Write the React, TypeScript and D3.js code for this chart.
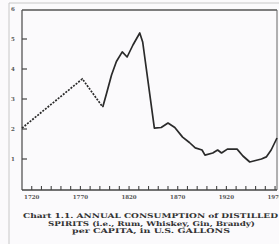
import React from "react";
import * as d3 from "d3";

const W = 279;
const H = 244;

// estimated (dashed) early segment
const estYears = [1710, 1772, 1793];
const estValues = [2.03, 3.67, 2.73];

// recorded series
const years = [1793, 1797, 1802, 1807, 1813, 1818, 1824, 1831, 1834, 1846, 1853, 1860, 1867, 1875, 1882, 1888, 1895, 1898, 1906, 1911, 1915, 1921, 1931, 1937, 1944, 1956, 1961, 1966, 1972];
const values = [2.73, 3.2, 3.8, 4.25, 4.57, 4.4, 4.8, 5.2, 4.9, 2.03, 2.05, 2.2, 2.05, 1.73, 1.55, 1.37, 1.3, 1.13, 1.2, 1.3, 1.2, 1.33, 1.33, 1.1, 0.9, 1.0, 1.07, 1.3, 1.7];

const yTicks = [1, 2, 3, 4, 5, 6];
const xMinorTicks = d3.range(1720, 1971, 10);
const xLabels = [1720, 1770, 1820, 1870, 1920, 1970];

const captionLines = [
  "Chart 1.1. ANNUAL CONSUMPTION of DISTILLED",
  "SPIRITS (i.e., Rum, Whiskey, Gin, Brandy)",
  "per CAPITA, in U.S. GALLONS",
];

export default function App() {
  const left = 22, right = 277, top = 10, bottom = 190;
  const x = d3.scaleLinear().domain([1710, 1972]).range([left, right]);
  const y = d3.scaleLinear().domain([0, 6]).range([189, 9]);
  const line = d3.line<[number, number]>().x((d) => x(d[0])).y((d) => y(d[1]));
  const est = line(estYears.map((t, i) => [t, estValues[i]]));
  const main = line(years.map((t, i) => [t, values[i]]));
  const capY = [218, 225.5, 233];
  const capX = [[23, 278], [48, 255], [72, 230]];
  return (
    <svg width={W} height={H} style={{ position: "absolute", left: 0, top: 0, background: "#fbfafc" }}>
      <rect x={0} y={0} width={W} height={H} fill="#fbfafc" />
      {/* scan border lines */}
      <line x1={9} y1={3} x2={279} y2={3} stroke="#c8c8c8" strokeWidth={1} />
      <line x1={9} y1={3} x2={9} y2={244} stroke="#c8c8c8" strokeWidth={1} />
      {/* frame */}
      <line x1={left} y1={top} x2={right} y2={top} stroke="#555" strokeWidth={1.3} />
      <line x1={left} y1={top} x2={left} y2={bottom} stroke="#555" strokeWidth={1.3} />
      <line x1={right} y1={top} x2={right} y2={bottom} stroke="#666" strokeWidth={1} />
      <line x1={left} y1={bottom} x2={right} y2={bottom} stroke="#444" strokeWidth={1.3} />
      {yTicks.map((v) => (
        <g key={v}>
          {v < 6 && <line x1={left} x2={left + 5} y1={y(v)} y2={y(v)} stroke="#444" strokeWidth={1.2} />}
          <text x={13} y={y(v) + 2} fontSize={5.5} fontFamily="DejaVu Serif" fontWeight="bold" fill="#555" textAnchor="middle">{v}</text>
        </g>
      ))}
      {xMinorTicks.map((t) => (
        <line key={t} x1={x(t)} x2={x(t)} y1={bottom} y2={bottom - 4} stroke="#444" strokeWidth={1.1} />
      ))}
      {xLabels.map((t) => (
        <text key={t} x={x(t)} y={199} fontSize={5.5} fontFamily="DejaVu Serif" fontWeight="bold" fill="#555" textAnchor="middle">{t}</text>
      ))}
      <path d={est || ""} fill="none" stroke="#2a2a2a" strokeWidth={1.7} strokeDasharray="2,1.3" />
      <path d={main || ""} fill="none" stroke="#2a2a2a" strokeWidth={1.7} strokeLinejoin="round" />
      {captionLines.map((s, i) => (
        <text key={i} x={capX[i][0]} y={capY[i]} textLength={capX[i][1] - capX[i][0]} lengthAdjust="spacingAndGlyphs"
          fontSize={6.6} fontFamily="DejaVu Serif" fontWeight="bold" fill="#333">{s}</text>
      ))}
    </svg>
  );
}
